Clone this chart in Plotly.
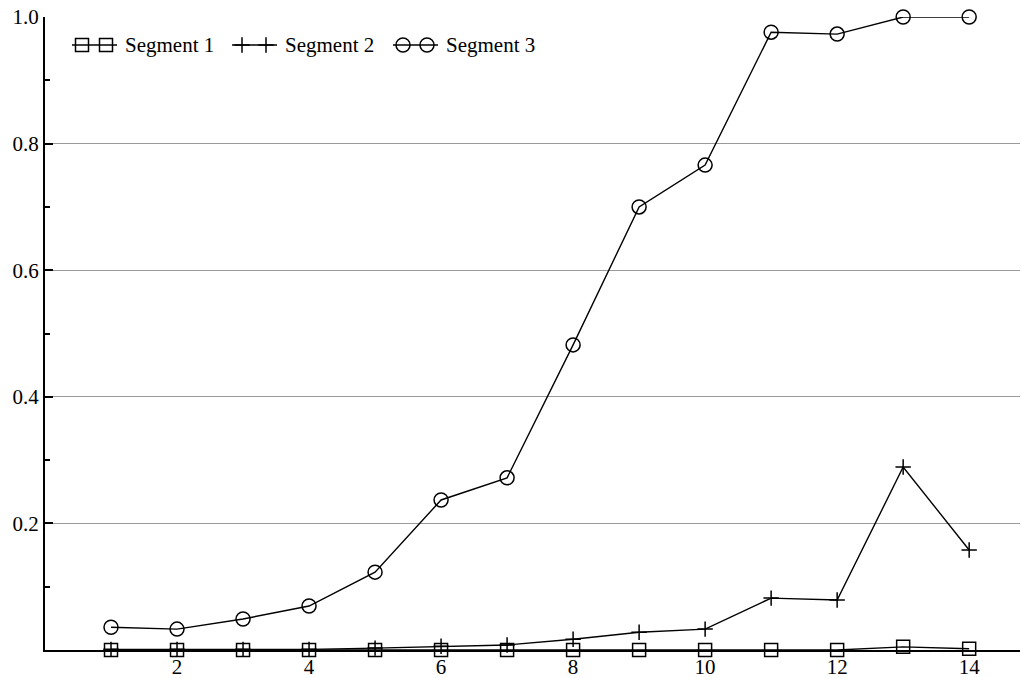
import plotly.graph_objects as go

# Step index along the x axis
steps = list(range(1, 15))

# Share values per segment
segment_1 = [0.0, 0.0, 0.0, 0.0, 0.0, 0.0, 0.0, 0.0, 0.0, 0.0, 0.0, 0.0, 0.005, 0.002]
segment_2 = [0.001, 0.001, 0.001, 0.001, 0.003, 0.006, 0.008, 0.017, 0.028, 0.033,
             0.082, 0.079, 0.289, 0.158]
segment_3 = [0.036, 0.033, 0.049, 0.0695, 0.123, 0.237, 0.272, 0.482, 0.700, 0.766,
             0.976, 0.973, 1.0, 1.0]

y_major = [0.2, 0.4, 0.6, 0.8, 1.0]
y_major_text = ["0.2", "0.4", "0.6", "0.8", "1.0"]
y_minor = [0.1, 0.3, 0.5, 0.7, 0.9]
x_ticks = [2, 4, 6, 8, 10, 12, 14]

FONT = "Liberation Serif"
FS = 21

series = [
    ("Segment 1", segment_1, "square-open", 13),
    ("Segment 2", segment_2, "cross-thin-open", 11),
    ("Segment 3", segment_3, "circle-open", 14),
]

# Plot area in pixels (used for the hand-built legend overlay)
L, R, T, B = 45, 1020, 17, 650
W, H = 1023, 678

fig = go.Figure()
for name, vals, sym, size in series:
    fig.add_trace(go.Scatter(
        x=steps, y=vals, name=name, mode="lines+markers", showlegend=False,
        line=dict(color="black", width=1.4),
        marker=dict(symbol=sym, size=size, color="black",
                    line=dict(color="black", width=1.5)),
        cliponaxis=False,
    ))

# Legend: each key is a short line with two markers, followed by its label
key_starts = [72, 232, 393]
key_len = 45
for (name, _, sym, size), x0 in zip(series, key_starts):
    fig.add_trace(go.Scatter(
        x=[x0, x0 + key_len], y=[45, 45], mode="lines", showlegend=False,
        line=dict(color="black", width=1.4), xaxis="x2", yaxis="y2",
        hoverinfo="skip", cliponaxis=False,
    ))
    fig.add_trace(go.Scatter(
        x=[x0 + 10, x0 + 34], y=[45, 45], mode="markers", showlegend=False,
        marker=dict(symbol=sym, size=size, color="black",
                    line=dict(color="black", width=1.5)),
        xaxis="x2", yaxis="y2", hoverinfo="skip", cliponaxis=False,
    ))
    fig.add_annotation(x=x0 + 51, y=45, xref="x2", yref="y2", text=name,
                       showarrow=False, xanchor="left", yanchor="middle",
                       font=dict(family=FONT, size=FS, color="black"))

fig.update_layout(
    width=W, height=H,
    margin=dict(l=L, r=W - R, t=T, b=H - B, autoexpand=False),
    paper_bgcolor="white", plot_bgcolor="white",
    font=dict(family=FONT, size=FS, color="black"),
    showlegend=False,
    xaxis=dict(range=[0, 14.77], tickmode="array", tickvals=x_ticks,
               showgrid=False, zeroline=False, showline=True, linecolor="black",
               linewidth=2, ticks="", automargin=False, ticklabelstandoff=-3,
               tickfont=dict(family=FONT, size=FS)),
    yaxis=dict(range=[0, 1.0], tickmode="array", tickvals=y_major, ticktext=y_major_text,
               showgrid=True, gridcolor="#9a9a9a", gridwidth=1, zeroline=False,
               showline=True, linecolor="black", linewidth=2, automargin=False,
               ticks="inside", ticklen=8, tickcolor="black", tickwidth=1.5,
               tickfont=dict(family=FONT, size=FS),
               minor=dict(tickmode="array", tickvals=y_minor, ticks="inside",
                          ticklen=5, tickcolor="black", tickwidth=1.5, showgrid=False)),
    xaxis2=dict(range=[L, R], overlaying="x", visible=False, fixedrange=True),
    yaxis2=dict(range=[B, T], overlaying="y", visible=False, fixedrange=True),
)

fig.write_html("out.html")
